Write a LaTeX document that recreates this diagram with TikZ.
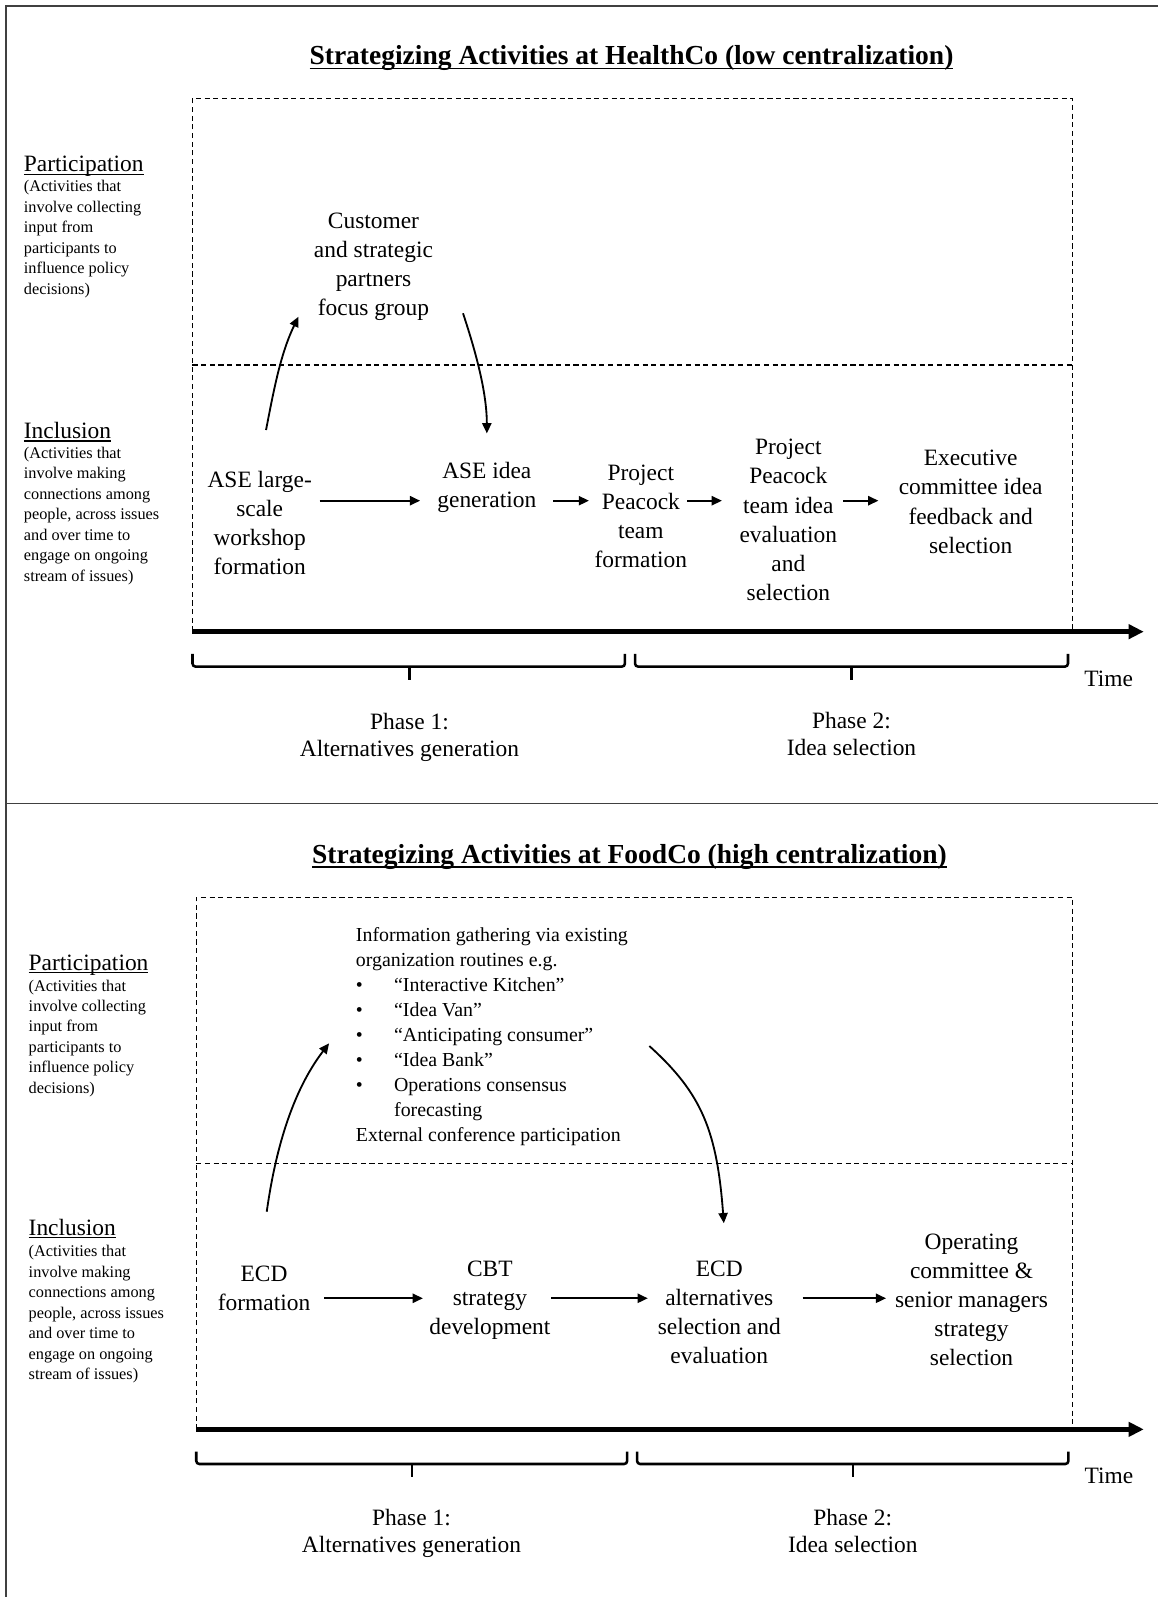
\documentclass[tikz,border=0pt]{standalone}
\usepackage{fontspec}
\setmainfont{Liberation Serif}
\usetikzlibrary{arrows.meta,calc}
\newcommand\mlc[1]{\begin{tabular}[t]{@{}c@{}}#1\end{tabular}}
\newcommand\mll[1]{\begin{tabular}[t]{@{}l@{}}#1\end{tabular}}
\begin{document}
\begin{tikzpicture}[x=1pt,y=-1pt,
  every node/.style={inner sep=0pt, outer sep=0pt},
  big/.style={font=\fontsize{23}{28.5}\selectfont, anchor=base},
  phase/.style={font=\fontsize{23}{26.5}\selectfont, anchor=base},
  small/.style={font=\fontsize{16}{20.1}\selectfont, anchor=base west},
  head/.style={font=\fontsize{23}{28.5}\selectfont, anchor=base west},
  ttl/.style={font=\fontsize{27}{32}\selectfont\bfseries, anchor=base},
  info/.style={font=\fontsize{19.5}{24.5}\selectfont, anchor=base west},
  arr/.style={line width=1.8pt, -{Triangle[length=10pt,width=9pt]}},
  axisline/.style={line width=5pt, -{Triangle[length=15pt,width=14pt]}},
  bracel/.style={line width=2.5pt, rounded corners=3pt},
  bracetip/.style={line width=2.5pt},
  dbox/.style={line width=1.2pt, dash pattern=on 5pt off 3.5pt},
  frameline/.style={line width=1.6pt, black!75},
  uline/.style={line width=1.3pt},
  tline/.style={line width=1.7pt}
]
\useasboundingbox (0,0) rectangle (1137,1568);

% frame
\draw[frameline] (5.6,1568) -- (5.6,5.9) -- (1137,5.9);
\draw[frameline] (5.6,788.8) -- (1137,788.8);

%================ TOP PANEL =================
\node[ttl] (t1) at (620,63.8) {Strategizing Activities at HealthCo (low centralization)};
\draw[tline] ([yshift=-3.5pt]t1.base west) -- ([yshift=-3.5pt]t1.base east);

\draw[dbox] (189,620) -- (189,96.5) -- (1053,96.5) -- (1053,620);
\draw[dbox] (189,358.4) -- (1053,358.4);

\node[head] (part1) at (23.5,168.6) {Participation};
\draw[uline] ([yshift=-2.5pt]part1.base west) -- ([yshift=-2.5pt]part1.base east);
\node[small] (pd1) at (23.5,188.2) {\mll{(Activities that\\involve collecting\\input from\\participants to\\influence policy\\decisions)}};
\node[head] (incl1) at (23.5,430.4) {Inclusion};
\draw[uline] ([yshift=-2.5pt]incl1.base west) -- ([yshift=-2.5pt]incl1.base east);
\node[small] (id1) at (23.5,450) {\mll{(Activities that\\involve making\\connections among\\people, across issues\\and over time to\\engage on ongoing\\stream of issues)}};

\node[big] (cust) at (366.7,224.2) {\mlc{Customer\\and strategic\\partners\\focus group}};
\node[big] (ase) at (255,478.5) {\mlc{ASE large-\\scale\\workshop\\formation}};
\node[big] (idea) at (478,469.7) {\mlc{ASE idea\\generation}};
\node[big] (ppf) at (629.2,471.3) {\mlc{Project\\Peacock\\team\\formation}};
\node[big] (ppe) at (774,446.7) {\mlc{Project\\Peacock\\team idea\\evaluation\\and\\selection}};
\node[big] (exec) at (953,457.5) {\mlc{Executive\\committee idea\\feedback and\\selection}};

\coordinate (row1) at (0,491.6);
\draw[arr,shorten <=7.6pt,shorten >=17pt] (ase.east |- row1) -- (idea.west |- row1);
\draw[arr,shorten <=16.5pt,shorten >=5.6pt] (idea.east |- row1) -- (ppf.west |- row1);
\draw[arr,shorten <=0pt,shorten >=17.3pt] (ppf.east |- row1) -- (ppe.west |- row1);
\draw[arr,shorten <=6pt,shorten >=20pt] (ppe.east |- row1) -- (exec.west |- row1);

\coordinate (u1s) at (261.2,422.2);
\coordinate (u1e) at (293.1,310.9);
\draw[arr] (u1s) .. controls (268.8,383) and (275.5,346.9) .. (u1e);
\coordinate (d1s) at (454.6,307.6);
\coordinate (d1e) at (478,425.5);
\draw[arr] (d1s) .. controls (467.2,345.6) and (478,385.5) .. (d1e);

\draw[axisline] (189,620.2) -- (1123,620.2);

\draw[bracel] (189,642) -- (189,654.5) -- (613.6,654.5) -- (613.6,642);
\draw[bracetip] (402,654.5) -- (402,668);
\draw[bracel] (623.5,642) -- (623.5,654.5) -- (1048.6,654.5) -- (1048.6,642);
\draw[bracetip] (836,654.5) -- (836,668);

\node[big] (time1) at (1088.5,673.6) {Time};
\node[phase] (ph11) at (402,716.7) {\mlc{Phase 1:\\Alternatives generation}};
\node[phase] (ph12) at (836,715) {\mlc{Phase 2:\\Idea selection}};

%================ BOTTOM PANEL =================
\node[ttl] (t2) at (618,847.5) {Strategizing Activities at FoodCo (high centralization)};
\draw[tline] ([yshift=-3.5pt]t2.base west) -- ([yshift=-3.5pt]t2.base east);

\draw[dbox] (192.7,1403.4) -- (192.7,881) -- (1053.3,881) -- (1053.3,1403.4);
\draw[dbox] (192.7,1142.2) -- (1053.3,1142.2);

\node[head] (part2) at (28.2,952.4) {Participation};
\draw[uline] ([yshift=-2.5pt]part2.base west) -- ([yshift=-2.5pt]part2.base east);
\node[small] (pd2) at (28.2,973) {\mll{(Activities that\\involve collecting\\input from\\participants to\\influence policy\\decisions)}};
\node[head] (incl2) at (28.2,1212.6) {Inclusion};
\draw[uline] ([yshift=-2.5pt]incl2.base west) -- ([yshift=-2.5pt]incl2.base east);
\node[small] (id2) at (28.2,1233.9) {\mll{(Activities that\\involve making\\connections among\\people, across issues\\and over time to\\engage on ongoing\\stream of issues)}};

\node[info] (infob) at (349.5,924.6) {\mll{Information gathering via existing\\organization routines e.g.\\\makebox[37.5pt][l]{\textbullet}“Interactive Kitchen”\\\makebox[37.5pt][l]{\textbullet}“Idea Van”\\\makebox[37.5pt][l]{\textbullet}“Anticipating consumer”\\\makebox[37.5pt][l]{\textbullet}“Idea Bank”\\\makebox[37.5pt][l]{\textbullet}Operations consensus\\\hspace*{37.5pt}forecasting\\External conference participation}};

\node[big] (ecd) at (259.3,1258.4) {\mlc{ECD\\formation}};
\node[big] (cbt) at (481,1253.5) {\mlc{CBT\\strategy\\development}};
\node[big] (ecda) at (706.2,1253.5) {\mlc{ECD\\alternatives\\selection and\\evaluation}};
\node[big] (opc) at (953.9,1226.6) {\mlc{Operating\\committee \&\\senior managers\\strategy\\selection}};

\coordinate (row2) at (0,1274.7);
\draw[arr,shorten <=13.9pt,shorten >=6.4pt] (ecd.east |- row2) -- (cbt.west |- row2);
\draw[arr,shorten <=0.6pt,shorten >=9.8pt] (cbt.east |- row2) -- (ecda.west |- row2);
\draw[arr,shorten <=21.5pt,shorten >=8.9pt] (ecda.east |- row2) -- (opc.west |- row2);

\coordinate (u2s) at (261.9,1189.7);
\coordinate (u2e) at (323.1,1024.4);
\draw[arr] (u2s) .. controls (270.2,1130.3) and (286.6,1072) .. (u2e);
\coordinate (d2s) at (637.5,1027);
\coordinate (d2e) at (710.7,1201);
\draw[arr] (d2s) .. controls (689.5,1073.8) and (703.9,1111) .. (d2e);

\draw[axisline] (192.7,1403.4) -- (1123,1403.4);

\draw[bracel] (192.7,1425.3) -- (192.7,1437.4) -- (615.8,1437.4) -- (615.8,1425.3);
\draw[bracetip] (404.7,1437.4) -- (404.7,1449.9);
\draw[bracel] (625.5,1425.3) -- (625.5,1437.4) -- (1049,1437.4) -- (1049,1425.3);
\draw[bracetip] (837.3,1437.4) -- (837.3,1449.9);

\node[big] (time2) at (1088.8,1456.4) {Time};
\node[phase] (ph21) at (404,1497.3) {\mlc{Phase 1:\\Alternatives generation}};
\node[phase] (ph22) at (837.3,1497.3) {\mlc{Phase 2:\\Idea selection}};
\end{tikzpicture}
\end{document}
